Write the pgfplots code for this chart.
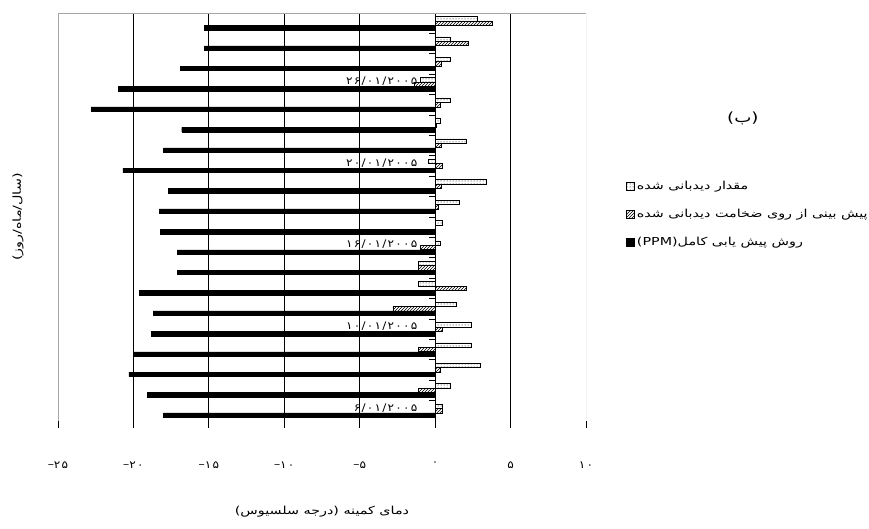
\documentclass[border=0pt]{standalone}
\usepackage{fontspec}
\usepackage{pgfplots}
\pgfplotsset{compat=1.18}
\usepackage{pgfplotstable}
\usetikzlibrary{patterns}
\setmainfont{Liberation Sans}
\newfontfamily\arabicfont[Script=Arabic, FakeStretch=1.3]{DejaVu Sans}
\newfontfamily\digitfont[Script=Arabic, LetterSpace=12, FakeStretch=1.15]{DejaVu Sans}
\newcommand{\mn}{{\rmfamily −}}
\TeXXeTstate=1

\pgfplotstableread{
y obs thk ppm
1 0.45 0.45 -18.0
2 1.0 -1.1 -19.1
3 3.0 0.35 -20.3
4 2.4 -1.1 -20.0
5 2.4 0.45 -18.8
6 1.4 -2.8 -18.7
7 -1.1 2.1 -19.6
8 -1.1 -1.1 -17.1
9 0.35 -1.0 -17.1
10 0.45 0.0 -18.2
11 1.6 0.2 -18.3
12 3.4 0.4 -17.7
13 -0.45 0.45 -20.7
14 2.05 0.4 -18.0
15 0.35 0.1 -16.8
16 1.0 0.35 -22.8
17 -1.0 -1.4 -21.0
18 1.0 0.4 -16.9
19 1.0 2.2 -15.3
20 2.8 3.8 -15.3
}\data

\begin{document}
\begin{tikzpicture}[font=\arabicfont\fontsize{11}{13}\selectfont]
\begin{axis}[
  at={(0,0)}, anchor=south west,
  scale only axis, width=528pt, height=408pt,
  xmin=-25, xmax=10, ymin=0.5, ymax=20.5,
  axis line style={draw=none},
  xtick={-25,-20,...,10},
  xticklabels={{\mn ۲۵},{\mn ۲۰},{\mn ۱۵},{\mn ۱۰},{\mn ۵},{۰},{۵},{۱۰}},
  x tick style={black, line width=0.8pt},
  tick align=outside, major tick length=7pt,
  xtick pos=bottom,
  xticklabel style={yshift=-30pt, font=\digitfont\fontsize{10.5}{12}\selectfont},
  ytick={1,5,9,13,17},
  yticklabels={{۶/۰۱/۲۰۰۵},{۱۰/۰۱/۲۰۰۵},{۱۶/۰۱/۲۰۰۵},{۲۰/۰۱/۲۰۰۵},{۲۶/۰۱/۲۰۰۵}},
  ytick pos=left, y tick style={draw=none},
  yticklabel style={anchor=east, xshift=370pt, yshift=3pt, font=\digitfont\fontsize{10.5}{12}\selectfont},
  xlabel={\beginR دمای کمینه (درجه سلسیوس)\endR},
  every axis x label/.style={at={(rel axis cs:0.5,0)}, yshift=-91pt, anchor=center},
  ylabel={\beginR (سال/ماه/روز)\endR},
  every axis y label/.style={at={(rel axis cs:0,0.5)}, xshift=-40pt, rotate=90, anchor=center},
  title={(ب)},
  title style={at={(rel axis cs:1.297,0.727)}, anchor=center, font=\arabicfont\fontsize{14}{16}\selectfont},
  legend style={at={(rel axis cs:1.07,0.597)}, anchor=north west, draw=none, fill=none, row sep=14pt, font=\arabicfont\fontsize{11}{13}\selectfont},
  legend cell align=left,
  legend image code/.code={\draw[#1] (0pt,-4pt) rectangle (8pt,4pt);},
]
\pgfplotsinvokeforeach{-20,-15,-10,-5,5}{
  \draw[black, line width=0.8pt] (axis cs:#1,0.5) -- (axis cs:#1,20.5);
}
\addplot[xbar, bar width=4.4pt, bar shift=4.4pt, draw=black, pattern=dots, line width=0.8pt] table[x=obs, y=y]{\data};
\addplot[xbar, bar width=4.4pt, bar shift=0pt, draw=black, pattern=north east lines, line width=0.8pt] table[x=thk, y=y]{\data};
\addplot[xbar, bar width=4.4pt, bar shift=-4.4pt, draw=black, fill=black] table[x=ppm, y=y]{\data};
\legend{{\beginR مقدار دیدبانی شده\endR},{\beginR پیش بینی از روی ضخامت دیدبانی شده\endR},{\beginR روش پیش یابی کامل(PPM)\endR}}
\draw[black, line width=0.8pt] (axis cs:0,0.5) -- (axis cs:0,20.5);
\pgfplotsinvokeforeach{0.5,1.5,...,20.5}{
  \draw[black, line width=0.8pt] (axis cs:0,#1) -- ([xshift=-6pt]axis cs:0,#1);
}
\draw[gray!70] (rel axis cs:0,0) -- (rel axis cs:0,1) -- (rel axis cs:1,1) -- (rel axis cs:1,0);
\draw[black, line width=0.8pt] (rel axis cs:0,0) -- (rel axis cs:1,0);
\end{axis}
\pgfresetboundingbox
\path[use as bounding box] (-58pt,-108pt) rectangle (811pt,421pt);
\end{tikzpicture}
\end{document}
